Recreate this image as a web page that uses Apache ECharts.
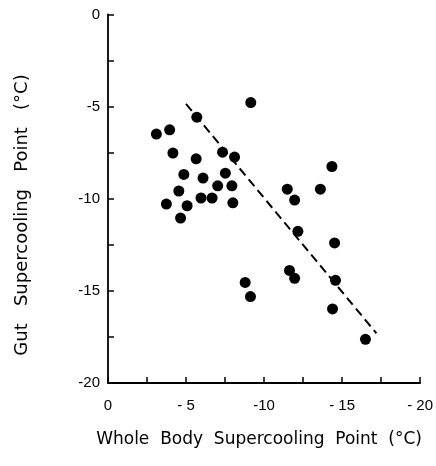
<!DOCTYPE html>
<html><head><meta charset="utf-8">
<script src="https://cdn.jsdelivr.net/npm/echarts@6/dist/echarts.min.js"></script>
<style>html,body{margin:0;padding:0;background:#fff}#c{width:436px;height:466px}</style>
</head><body><div id="c"></div>
<script>
// Whole body supercooling point (°C)
const wholeBody = [-9.15,-5.69,-3.10,-3.95,-4.16,-5.65,-7.34,-8.11,-4.86,-6.09,-7.52,-7.03,-7.94,-4.54,-5.96,-6.67,-8.00,-3.74,-5.07,-4.65,-11.49,-13.61,-11.96,-12.17,-14.35,-14.52,-11.63,-11.96,-14.58,-8.79,-9.13,-14.39,-16.50];
// Gut supercooling point (°C)
const gut = [-4.78,-5.57,-6.49,-6.26,-7.52,-7.83,-7.47,-7.74,-8.68,-8.88,-8.61,-9.30,-9.30,-9.58,-9.96,-9.96,-10.22,-10.29,-10.38,-11.05,-9.48,-9.48,-10.07,-11.77,-8.25,-12.40,-13.89,-14.32,-14.43,-14.54,-15.31,-15.98,-17.63];
// regression line end points
const fitX = [-5.0, -17.2];
const fitY = [-4.85, -17.3];
const xTicks = ['0','- 5','-10','- 15','- 20'];
const yTicks = ['0','-5','-10','-15','-20'];
const xTitle = 'Whole  Body  Supercooling  Point  (°C)';
const yTitle = 'Gut   Supercooling   Point   (°C)';

const chart = echarts.init(document.getElementById('c'), null, {renderer:'canvas'});
const font = 'Liberation Sans, Arial, sans-serif';
const tfont = 'DejaVu Sans, sans-serif';
function axisLine(){ return {show:true, onZero:false, lineStyle:{color:'#000', width:1.8}}; }
function tick(){ return {show:true, inside:true, length:6, lineStyle:{color:'#000', width:1.5}}; }
chart.setOption({
  animation:false,
  backgroundColor:'#fff',
  grid:{left:108, right:14, top:14.5, bottom:83},
  xAxis:{
    type:'value', position:'bottom', min:-20, max:0, interval:2.5, inverse:true,
    axisLine: axisLine(), axisTick: tick(),
    splitLine:{show:false},
    axisLabel:{color:'#000', fontFamily:font, fontSize:15, margin:15,
      formatter:(v)=> (Math.abs(v)%5===0 ? xTicks[Math.round(-v/5)] : '')},
    name: xTitle, nameLocation:'middle', nameGap:48,
    nameTextStyle:{color:'#000', fontFamily:tfont, fontSize:17, padding:[0,10,0,0]}
  },
  yAxis:{
    type:'value', position:'left', min:-20, max:0, interval:2.5,
    axisLine: axisLine(), axisTick: tick(),
    splitLine:{show:false},
    axisLabel:{color:'#000', fontFamily:font, fontSize:15, margin:8,
      formatter:(v)=> (Math.abs(v)%5===0 ? yTicks[Math.round(-v/5)] : '')}
  },
  graphic:[{
    type:'text', x:13, y:215, rotation:Math.PI/2,
    style:{text:yTitle, font:'18px '+tfont, fill:'#000', align:'center', verticalAlign:'top'}
  }],
  series:[
    {type:'scatter', symbol:'circle', symbolSize:11,
     itemStyle:{color:'#000', opacity:1},
     data: wholeBody.map((x,i)=>[x, gut[i]])},
    {type:'line', symbol:'none', silent:true,
     lineStyle:{color:'#000', width:2, type:[9,5]},
     data: fitX.map((x,i)=>[x, fitY[i]])}
  ]
});
</script></body></html>
